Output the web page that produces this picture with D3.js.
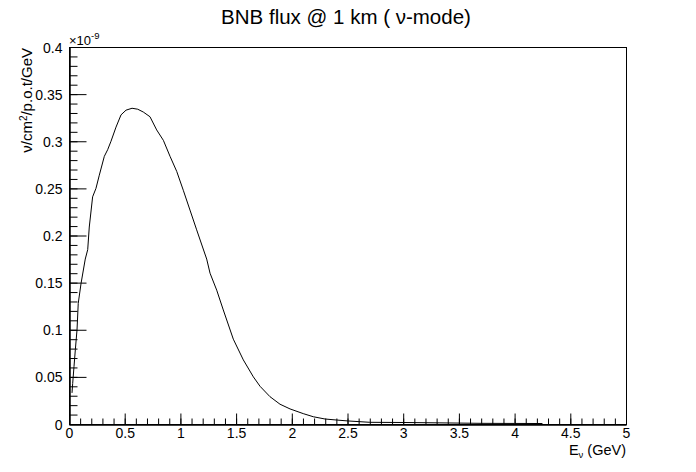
<!DOCTYPE html>
<html>
<head>
<meta charset="utf-8">
<script src="https://cdn.jsdelivr.net/npm/d3@7"></script>
<style>
  html, body { margin: 0; padding: 0; background: #fff; }
  svg text { font-family: "Liberation Sans", Arial, Helvetica, sans-serif; fill: #000; }
</style>
</head>
<body>
<svg id="chart" width="696" height="472"></svg>
<script>
// ---- data (flux in units of 1e-9 nu/cm2/p.o.t/GeV) ----
const energy = [0.027, 0.033, 0.045, 0.057, 0.072, 0.083, 0.108, 0.146, 0.168, 0.182,
  0.212, 0.242, 0.272, 0.317, 0.347, 0.377, 0.422, 0.467, 0.512, 0.566,
  0.617, 0.667, 0.727, 0.787, 0.847, 0.907, 0.967, 1.026, 1.086, 1.146,
  1.236, 1.266, 1.326, 1.385, 1.475, 1.565, 1.655, 1.715, 1.804, 1.894,
  1.984, 2.103, 2.193, 2.298, 2.403, 2.507, 2.70, 3.0, 3.33, 3.7, 4.0, 4.25];
const flux = [0.033, 0.043, 0.061, 0.079, 0.100, 0.128, 0.149, 0.175, 0.185, 0.209,
  0.241, 0.250, 0.264, 0.284, 0.291, 0.300, 0.315, 0.328, 0.333, 0.335,
  0.334, 0.331, 0.326, 0.312, 0.301, 0.284, 0.268, 0.248, 0.227, 0.206,
  0.175, 0.160, 0.142, 0.121, 0.090, 0.068, 0.050, 0.040, 0.029, 0.021,
  0.016, 0.011, 0.0077, 0.0053, 0.0042, 0.0032, 0.0018, 0.0016, 0.0012, 0.0007, 0.0006, 0.0005];

const xMajorTicks = [0, 0.5, 1, 1.5, 2, 2.5, 3, 3.5, 4, 4.5, 5];
const xTickLabels = ["0", "0.5", "1", "1.5", "2", "2.5", "3", "3.5", "4", "4.5", "5"];
const yMajorTicks = [0, 0.05, 0.1, 0.15, 0.2, 0.25, 0.3, 0.35, 0.4];
const yTickLabels = ["0", "0.05", "0.1", "0.15", "0.2", "0.25", "0.3", "0.35", "0.4"];
const xMinorTicks = d3.range(0, 51).map(i => i / 10);
const yMinorTicks = d3.range(0, 41).map(i => i / 100);

const titleText = "BNB flux @ 1 km ( ν-mode)";

// ---- layout ----
const L = 69, R = 626, T = 47, B = 424;
const svg = d3.select("#chart");
svg.append("rect").attr("width", 696).attr("height", 472).attr("fill", "#fff");

const x = d3.scaleLinear().domain([0, 5]).range([L, R]);
const y = d3.scaleLinear().domain([0, 0.4]).range([B, T]);

// frame
svg.append("rect")
  .attr("x", L + 0.5).attr("y", T + 0.5)
  .attr("width", R - L).attr("height", B - T)
  .attr("fill", "none").attr("stroke", "#000").attr("stroke-width", 1);

// minor ticks
const xMinor = d3.axisBottom(x).tickValues(xMinorTicks).tickSizeInner(-6).tickSizeOuter(0).tickFormat("");
const yMinor = d3.axisLeft(y).tickValues(yMinorTicks).tickSizeInner(-8).tickSizeOuter(0).tickFormat("");
svg.append("g").attr("transform", `translate(0,${B + 0.5})`).call(xMinor);
svg.append("g").attr("transform", `translate(${L + 0.5},0)`).call(yMinor);

// major ticks + labels
const xAxis = d3.axisBottom(x).tickValues(xMajorTicks).tickSizeInner(-11).tickSizeOuter(0)
  .tickPadding(4).tickFormat((d, i) => xTickLabels[i]);
const yAxis = d3.axisLeft(y).tickValues(yMajorTicks).tickSizeInner(-17).tickSizeOuter(0)
  .tickPadding(7).tickFormat((d, i) => yTickLabels[i]);
const gx = svg.append("g").attr("transform", `translate(0,${B + 0.5})`).call(xAxis);
const gy = svg.append("g").attr("transform", `translate(${L + 0.5},0)`).call(yAxis);

[gx, gy].forEach(g => {
  g.selectAll("text").attr("font-size", 14).attr("font-family", "Liberation Sans, Arial, sans-serif").attr("fill", "#000");
});
svg.selectAll(".domain").attr("stroke", "#000");
svg.selectAll(".tick line").attr("stroke", "#000");
gy.selectAll("text").attr("dy", "0.36em");

// curve
const line = d3.line().x((d, i) => x(energy[i])).y(d => y(d));
svg.append("path")
  .datum(flux)
  .attr("d", line)
  .attr("fill", "none")
  .attr("stroke", "#000")
  .attr("stroke-width", 1);

// exponent label
const ex = svg.append("text").attr("x", L).attr("y", 45).attr("font-size", 13);
ex.append("tspan").text("×10");
ex.append("tspan").attr("dy", -6).attr("font-size", 9.5).text("-9");

// title
svg.append("text")
  .attr("x", 346).attr("y", 24)
  .attr("text-anchor", "middle")
  .attr("font-size", 20.5)
  .text(titleText);

// y axis title
const yt = svg.append("text")
  .attr("transform", `translate(32,48) rotate(-90)`)
  .attr("text-anchor", "end")
  .attr("font-size", 15);
yt.append("tspan").text("ν/cm");
yt.append("tspan").attr("dy", -5).attr("font-size", 10).text("2");
yt.append("tspan").attr("dy", 5).text("/p.o.t/GeV");

// x axis title
const xt = svg.append("text")
  .attr("x", R).attr("y", 455)
  .attr("text-anchor", "end")
  .attr("font-size", 14.5);
xt.append("tspan").text("E");
xt.append("tspan").attr("dy", 3).attr("font-size", 9.5).text("ν");
xt.append("tspan").attr("dy", -3).text(" (GeV)");
</script>
</body>
</html>
